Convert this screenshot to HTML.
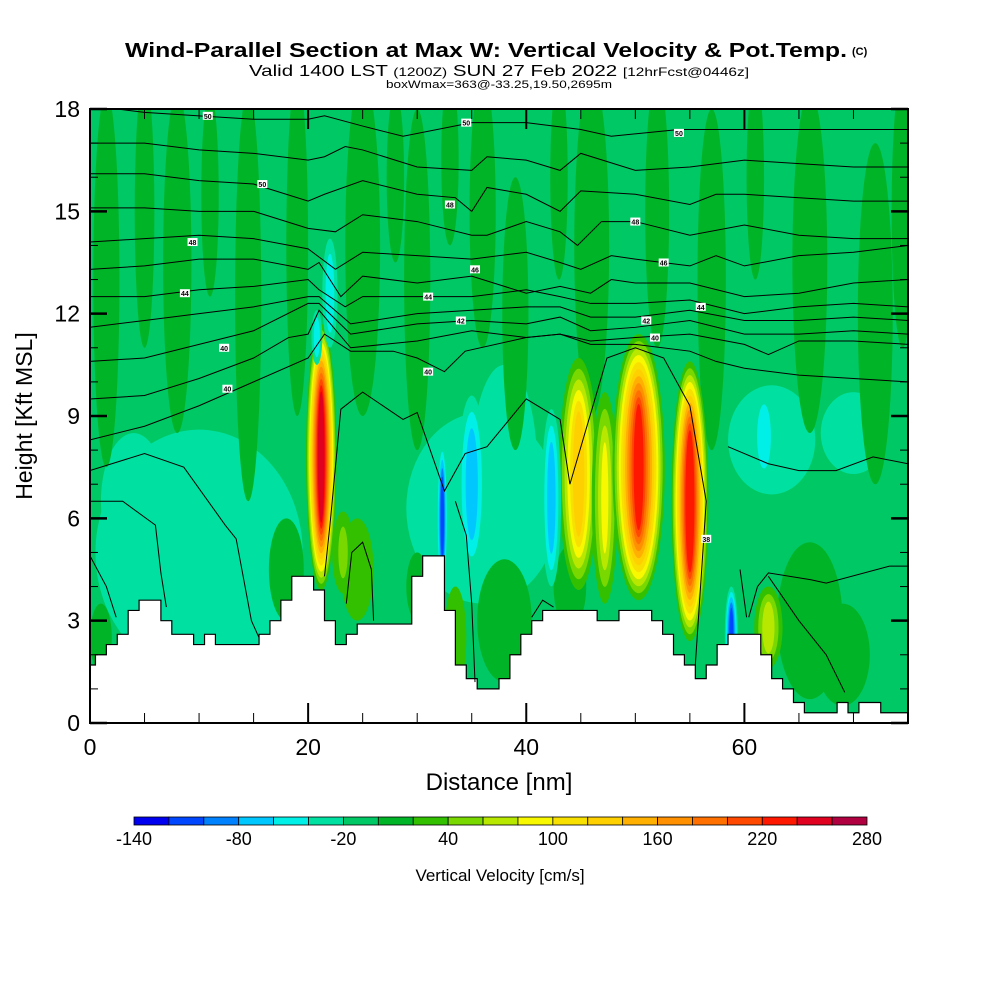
<!DOCTYPE html>
<html><head><meta charset="utf-8">
<style>
html,body{margin:0;padding:0;background:#fff;width:1000px;height:1000px;overflow:hidden}
text{font-family:"Liberation Sans",sans-serif}
</style></head>
<body>
<svg id="chart" width="1000" height="1000" viewBox="0 0 1000 1000" xmlns="http://www.w3.org/2000/svg">
<defs><clipPath id="plotclip"><rect x="90" y="109" width="818" height="614"/></clipPath></defs>
<text x="125" y="57" font-size="20" font-weight="bold" textLength="722" lengthAdjust="spacingAndGlyphs">Wind-Parallel Section at Max W: Vertical Velocity &amp; Pot.Temp.</text>
<text x="852" y="55" font-size="11" font-weight="bold">(C)</text>
<text x="249" y="76" font-size="16" textLength="500" lengthAdjust="spacingAndGlyphs">Valid 1400 LST <tspan font-size="12">(1200Z)</tspan> SUN 27 Feb 2022 <tspan font-size="12">[12hrFcst@0446z]</tspan></text>
<text x="386" y="88" font-size="11" textLength="226" lengthAdjust="spacingAndGlyphs">boxWmax=363@-33.25,19.50,2695m</text>
<g id="field" clip-path="url(#plotclip)"></g>
<g id="terrain"></g>
<g id="contours" clip-path="url(#plotclip)"></g>
<g id="axes"></g>
<g id="cbar"></g>
<text x="0" y="0" font-size="23" text-anchor="middle" transform="translate(32,416) rotate(-90)">Height [Kft MSL]</text>
<text x="499" y="790" font-size="24" text-anchor="middle">Distance [nm]</text>
<text x="500" y="881" font-size="17" text-anchor="middle">Vertical Velocity [cm/s]</text>
</svg>
<script>
var NS="http://www.w3.org/2000/svg";
// ---- data ----
var xTicks=[0,20,40,60];
var yTicks=[0,3,6,9,12,15,18];
var cbLevels=[-140,-120,-100,-80,-60,-40,-20,0,20,40,60,80,100,120,140,160,180,200,220,240,260,280];
var cbLabels=[-140,-80,-20,40,100,160,220,280];
var cbColors=["#0000f0","#0046ff","#0082ff","#00c8ff","#00f0e8","#00e0a0","#00c864","#00b428","#32c000","#78d800","#b8e800","#f8f800","#f8e000","#ffd000","#ffb000","#ff9000","#ff7000","#ff4800","#ff1800","#e00020","#b00040"];
var terrainH=[1.7,2.0,2.3,2.6,3.3,3.6,3.6,3.0,2.6,2.6,2.3,2.6,2.3,2.3,2.3,2.3,2.6,3.0,3.6,4.3,4.3,3.9,3.0,2.3,2.6,2.9,2.9,2.9,2.9,2.9,4.3,4.9,4.9,3.3,1.7,1.3,1.0,1.0,1.3,2.0,2.6,3.0,3.3,3.3,3.3,3.3,3.3,3.0,3.0,3.3,3.3,3.3,3.0,2.6,2.0,1.7,1.3,1.7,2.3,2.6,2.6,2.6,2.0,1.3,1.0,0.6,0.3,0.3,0.3,0.6,0.3,0.6,0.6,0.3,0.3,0.3];
// background patches: [center nm, center kft, radius nm, radius kft, value]
var patches=[
[10,5,9.5,3.6,-30],[4,6.5,3,2,-30],[36,6.3,7,2.8,-30],[38,7.5,3,3,-30],[62.5,8.3,4,1.6,-30],[70,8.5,3,1.2,-30],
[1.5,13,1.2,5.5,10],[5,15,0.9,4,10],[8,13.5,1.3,5,10],[11,15.5,0.8,3,10],[14.5,12.5,1.2,6,10],[19,14,1,5,10],[25,14,1.6,5,10],[28,16,0.8,2.5,10],[30,13,1.2,5,10],[33,16.5,0.8,2.5,10],[36,15,1.2,4,10],[39,12,1.2,4,10],[43,16,0.8,3,10],[46,14,1.6,5,10],[52,15,1.1,4,10],[57,13,1.3,5,10],[61,16,0.8,3,10],[66,13.5,1.6,5,10],[72,12,1.6,5,10],[74.5,15,1,4,10],
[18,4.5,1.6,1.5,10],[24.5,4.5,1.5,1.5,30],[30,4,1,1,10],[38,3,2.5,1.8,10],[44,4,1.5,1.2,10],[66,3,3,2.3,10],[69,2,2.5,1.5,10],[1,2.5,1,1,10],[33.5,2.5,1,1.5,30]
];
// updraft/downdraft cores: [center nm, center kft, radius nm, radius kft, peak]
var cores=[
[21.2,7.8,1.4,3.9,250],[44.8,7.3,1.8,3.4,130],[47.2,6.6,1.2,3.1,80],[50.3,7.5,2.4,3.9,220],[55,6.5,1.7,4.1,235],[62.2,2.8,1.3,1.2,70],[23.2,5,1,1.2,40],
[32.3,6,0.5,2.2,-110],[35,7,1.3,2.6,-70],[42.3,6.6,0.9,2.6,-70],[58.8,2.6,0.6,1.4,-110],[61.8,8.4,1.1,1.3,-50],[22,12.6,0.7,1.6,-50],[20.8,11.3,0.5,0.8,-50]
];
var thetaLines=[
[[0,18.1],[5,17.9],[10,17.8],[15,17.7],[20,17.7],[21.5,17.8],[25,17.5],[28.7,17.2],[35,17.6],[40,17.6],[45,17.4],[47.8,17.2],[54,17.4],[60,17.4],[70,17.4],[75,17.4]],
[[0,17.0],[5,17.0],[10,16.8],[15,16.7],[20,16.5],[21.5,16.6],[23.4,16.9],[25,16.8],[30,16.3],[35,16.2],[36.4,16.6],[40,16.5],[43.1,16.2],[45,16.7],[50,16.2],[55,16.3],[60,16.5],[65,16.4],[70,16.3],[75,16.3]],
[[0,16.1],[5,16.1],[10,15.9],[15,15.8],[20,15.3],[21.5,15.5],[25,15.9],[30,15.5],[33.5,15.4],[35,15.0],[36.4,15.7],[40,15.5],[43.1,15.0],[45,15.6],[50,15.5],[55,15.2],[57.4,15.5],[60,15.5],[65,15.4],[70,15.3],[75,15.3]],
[[0,15.1],[5,15.1],[10,15.0],[15,15.0],[20,14.5],[22.5,14.4],[25,14.9],[30,14.7],[35,14.3],[36.4,14.3],[40,14.7],[43.1,14.4],[44.7,14.0],[46.9,14.7],[50,14.7],[55,14.3],[60,14.6],[65,14.3],[70,14.2],[75,14.2]],
[[0,14.1],[5,14.2],[10,14.3],[15,14.2],[20,13.9],[22.5,13.3],[25,13.8],[30,13.7],[35,13.6],[40,13.8],[43.1,13.5],[45,13.3],[47.8,13.7],[50,13.6],[55,13.4],[57.4,13.7],[60,13.4],[65,13.7],[70,13.8],[75,14.0]],
[[0,13.3],[5,13.4],[10,13.6],[15,13.6],[20,13.3],[21,13.5],[23,12.5],[25,13.1],[30,12.9],[35,13.1],[40,12.6],[43.1,12.8],[45.9,12.6],[47.8,13.0],[50,12.9],[55,12.9],[60,12.5],[65,12.6],[70,12.9],[75,13.0]],
[[0,12.5],[5,12.5],[10,12.7],[15,12.8],[20,13.0],[21,12.7],[23.4,12.2],[25,12.5],[30,12.5],[35,12.5],[40,12.7],[43.1,12.5],[45.9,12.3],[50,12.3],[55,12.4],[60,12.0],[65,12.2],[70,12.3],[75,12.2]],
[[0,11.6],[5,11.8],[10,12.0],[15,12.2],[20,12.5],[21,12.5],[23.9,11.7],[30,12.0],[35,12.1],[40,12.2],[43.1,12.2],[45.9,11.9],[50,11.9],[55,12.1],[60,11.8],[65,11.8],[70,11.9],[75,11.8]],
[[0,10.6],[5,10.7],[10,11.1],[15,11.5],[20,12.3],[21,12.3],[23.9,11.4],[30,11.7],[35,11.8],[40,11.7],[43.1,11.9],[45.9,11.5],[50,11.6],[55,11.8],[60,11.4],[65,11.4],[70,11.5],[75,11.4]],
[[0,9.5],[5,9.6],[10,10.1],[15,10.7],[18.2,11.3],[20,11.4],[21,12.1],[23.9,11.0],[30,11.2],[35,11.5],[40,11.3],[43.1,11.4],[45.9,11.2],[50,11.3],[55,11.4],[60,11.1],[62.2,10.8],[65,11.2],[70,11.2],[75,11.1]],
[[0,8.3],[5,8.7],[10,9.3],[15,10.0],[20,10.7],[21.5,11.4],[23.9,10.9],[27.8,10.9],[30,10.7],[32.5,10.3],[34.4,10.9],[40,11.3],[43.1,11.4],[45.9,11.1],[50,11.1],[55,10.9],[57.4,10.6],[60,10.4],[65,10.2],[70,10.1],[75,10.0]],
[[0,7.4],[5,7.9],[8.6,7.5],[12.4,5.8],[13.4,5.4],[14.8,3.0],[15.5,2.5]],
[[21.5,4.3],[22,5.8],[23,9.2],[25,9.7],[28.7,8.9],[30,9.1],[32.5,6.8],[34.4,7.9],[36.4,8.1],[40,9.5],[43.1,8.9],[44,7.0],[47.4,10.7],[50,11.0],[52.6,10.7],[55,9.3],[56.5,6.5],[55.5,1.7]],
[[58.5,8.1],[62.2,7.6],[65,7.4],[68.4,7.4],[71.8,7.8],[75,7.6]],
[[59.6,4.5],[60.2,3.1]],
[[60.4,3.1],[61.2,4.0],[62.2,4.4],[66.1,4.2],[67.5,4.1],[73.3,4.6],[75,4.6]],
[[62.2,4.3],[65,3.0],[67.5,2.0],[69.2,0.9]],
[[0,4.9],[1.5,4.0],[2.4,3.1]],
[[0,6.5],[3,6.5],[6,5.8],[6.5,4.4],[7,3.4]],
[[23.5,3.5],[24,5.0],[25,5.3],[25.8,4.5],[26,3.0]],
[[35.3,1.2],[35,3.5],[34.5,5.5],[33.5,6.5]],
[[40.5,3.1],[41.5,3.6],[42.5,3.4]]
];
var thetaLabels=[[10.8,17.8,"50"],[34.5,17.6,"50"],[54,17.3,"50"],[15.8,15.8,"50"],[33,15.2,"48"],[50,14.7,"48"],[9.4,14.1,"48"],[35.3,13.3,"46"],[52.6,13.5,"46"],[8.7,12.6,"44"],[31,12.5,"44"],[56,12.2,"44"],[34,11.8,"42"],[51,11.8,"42"],[12.3,11.0,"40"],[31,10.3,"40"],[51.8,11.3,"40"],[12.6,9.8,"40"],[56.5,5.4,"38"]];
// ---- scales ----
function X(v){return 90+v*818/75;}
function Y(v){return 723-v*614/18;}
function colorFor(v){
  var i=Math.floor((v-cbLevels[0])/20);
  if(i<0)i=0; if(i>cbColors.length-1)i=cbColors.length-1;
  return cbColors[i];
}
function mk(tag,parent){var e=document.createElementNS(NS,tag);parent.appendChild(e);return e;}
var field=document.getElementById("field");
var bg=mk("rect",field);


bg.setAttribute("x",90);bg.setAttribute("y",109);bg.setAttribute("width",818);bg.setAttribute("height",614);bg.setAttribute("fill",colorFor(-10));
patches.forEach(function(p){
  var e=mk("ellipse",field);
  
  
  e.setAttribute("cx",X(p[0]));e.setAttribute("cy",Y(p[1]));
  e.setAttribute("rx",X(p[2])-X(0));e.setAttribute("ry",Y(0)-Y(p[3]));
  e.setAttribute("fill",colorFor(p[4]));
});
cores.forEach(function(c){
  var peak=c[4],sgn=peak>0?1:-1;
  var start=peak>0?20:-20;
  for(var lv=start;sgn*lv<=sgn*peak;lv+=sgn*20){
    var f=1-(lv-start)/(peak-start+sgn*10)*0.85;
    if(peak===start)f=1;
    var e=mk("ellipse",field);
    
    
    e.setAttribute("cx",X(c[0]));e.setAttribute("cy",Y(c[1]));
    e.setAttribute("rx",(X(c[2])-X(0))*f);e.setAttribute("ry",(Y(0)-Y(c[3]))*(0.35+0.65*f));
    e.setAttribute("fill",colorFor(lv+sgn*1));
  }
});
// terrain
var ter=document.getElementById("terrain");
var d="M"+X(0)+","+Y(0);
for(var i=0;i<terrainH.length;i++){
  var x0=Math.max(0,i-0.5),x1=Math.min(75,i+0.5);
  d+=" L"+X(x0)+","+Y(terrainH[i])+" L"+X(x1)+","+Y(terrainH[i]);
}
d+=" L"+X(75)+","+Y(0)+" Z";
var tp=mk("path",ter);


tp.setAttribute("d",d);tp.setAttribute("fill","#fff");tp.setAttribute("stroke","#000");tp.setAttribute("stroke-width","1.2");
// contours
var cg=document.getElementById("contours");
thetaLines.forEach(function(L){
  var pl=mk("polyline",cg);
  
  
  pl.setAttribute("points",L.map(function(p){return X(p[0])+","+Y(p[1]);}).join(" "));
  pl.setAttribute("fill","none");pl.setAttribute("stroke","#000");pl.setAttribute("stroke-width","1");
});
thetaLabels.forEach(function(l){
  var r=mk("rect",cg);
  
  
  r.setAttribute("x",X(l[0])-5);r.setAttribute("y",Y(l[1])-4);r.setAttribute("width",10);r.setAttribute("height",8);r.setAttribute("fill","#fff");
  var t=mk("text",cg);
  
  
  t.setAttribute("x",X(l[0]));t.setAttribute("y",Y(l[1])+3);t.setAttribute("font-size","7");t.setAttribute("font-weight","bold");t.setAttribute("text-anchor","middle");
  t.textContent=l[2];
});
// axes
var ax=document.getElementById("axes");
function line(x1,y1,x2,y2,w,name){var l=mk("line",ax);l.setAttribute("x1",x1);l.setAttribute("y1",y1);l.setAttribute("x2",x2);l.setAttribute("y2",y2);l.setAttribute("stroke","#000");l.setAttribute("stroke-width",w);}
var fr=mk("rect",ax);


fr.setAttribute("x",90);fr.setAttribute("y",109);fr.setAttribute("width",818);fr.setAttribute("height",614);fr.setAttribute("fill","none");fr.setAttribute("stroke","#000");fr.setAttribute("stroke-width","2");
for(var v=0;v<=75;v+=5){
  var major=(v%20===0),len=major?20:10;
  line(X(v),723,X(v),723-len,major?2:1,'x-tick');
  line(X(v),109,X(v),109+len,major?2:1,'x-tick-top');
}
for(var h=0;h<=18;h++){
  var mj=(h%3===0),ln=mj?17:8;
  line(90,Y(h),90+ln,Y(h),mj?2.5:1,'y-tick');
  line(908,Y(h),908-ln,Y(h),mj?2.5:1,'y-tick-right');
}
xTicks.forEach(function(v){
  var t=mk("text",ax);
  
  
  t.setAttribute("x",X(v));t.setAttribute("y",755);t.setAttribute("font-size","23");t.setAttribute("text-anchor","middle");t.textContent=v;
});
yTicks.forEach(function(v){
  var t=mk("text",ax);
  
  
  t.setAttribute("x",80);t.setAttribute("y",Y(v)+8);t.setAttribute("font-size","23");t.setAttribute("text-anchor","end");t.textContent=v;
});
// colorbar
var cb=document.getElementById("cbar");
var cbx0=134,cbx1=867,cbw=(cbx1-cbx0)/cbColors.length;
cbColors.forEach(function(c,i){
  var r=mk("rect",cb);
  
  
  r.setAttribute("x",cbx0+i*cbw);r.setAttribute("y",817);r.setAttribute("width",cbw);r.setAttribute("height",8);
  r.setAttribute("fill",c);r.setAttribute("stroke","#000");r.setAttribute("stroke-width","0.8");
});
cbLabels.forEach(function(v){
  var t=mk("text",cb);
  
  
  var idx=(v-cbLevels[0])/20;
  t.setAttribute("x",cbx0+idx*cbw);t.setAttribute("y",845);t.setAttribute("font-size","18");t.setAttribute("text-anchor","middle");t.textContent=v;
});
</script>
</body></html>
